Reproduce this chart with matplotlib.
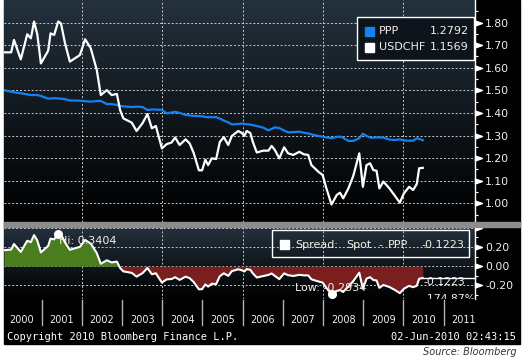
import matplotlib
matplotlib.use("Agg")
import matplotlib.pyplot as plt
import numpy as np
from matplotlib.patches import Rectangle
from matplotlib.path import Path
from matplotlib.colors import LinearSegmentedColormap
from matplotlib.transforms import blended_transform_factory

# data (decimal years)
dates = [2000.06, 2000.24, 2000.31, 2000.48, 2000.64, 2000.73, 2000.81, 2000.89, 2000.98, 2001.16,
         2001.22, 2001.31, 2001.41, 2001.48, 2001.58, 2001.70, 2001.95, 2002.08, 2002.22, 2002.37,
         2002.47, 2002.62, 2002.74, 2002.87, 2002.95, 2003.03, 2003.24, 2003.36, 2003.51, 2003.63,
         2003.74, 2003.84, 2003.99, 2004.11, 2004.23, 2004.32, 2004.43, 2004.58, 2004.68, 2004.78,
         2004.91, 2004.99, 2005.07, 2005.14, 2005.23, 2005.34, 2005.43, 2005.53, 2005.64, 2005.73,
         2005.89, 2005.98, 2006.04, 2006.10, 2006.19, 2006.25, 2006.35, 2006.51, 2006.64, 2006.72,
         2006.80, 2006.91, 2007.03, 2007.13, 2007.26, 2007.41, 2007.52, 2007.63, 2007.71, 2007.88,
         2007.99, 2008.07, 2008.21, 2008.34, 2008.42, 2008.50, 2008.63, 2008.75, 2008.90, 2008.99,
         2009.08, 2009.17, 2009.25, 2009.33, 2009.40, 2009.50, 2009.65, 2009.79, 2009.91, 2010.01,
         2010.14, 2010.24, 2010.33, 2010.39, 2010.48]
usdchf = [1.668, 1.668, 1.723, 1.637, 1.748, 1.730, 1.804, 1.748, 1.619, 1.675,
          1.752, 1.745, 1.8044, 1.796, 1.708, 1.627, 1.656, 1.726, 1.686, 1.590,
          1.479, 1.501, 1.479, 1.484, 1.413, 1.376, 1.357, 1.320, 1.355, 1.395,
          1.332, 1.342, 1.243, 1.262, 1.269, 1.291, 1.258, 1.283, 1.265, 1.223,
          1.146, 1.146, 1.193, 1.169, 1.199, 1.196, 1.271, 1.293, 1.258, 1.298,
          1.320, 1.311, 1.298, 1.320, 1.311, 1.273, 1.225, 1.233, 1.233, 1.254,
          1.236, 1.199, 1.248, 1.221, 1.214, 1.228, 1.217, 1.214, 1.169, 1.140,
          1.125, 1.073, 0.9946, 1.037, 1.047, 1.022, 1.066, 1.121, 1.221, 1.073,
          1.169, 1.177, 1.147, 1.144, 1.066, 1.096, 1.066, 1.032, 1.003, 1.044,
          1.073, 1.059, 1.085, 1.155, 1.1569]
ppp = [1.501, 1.494, 1.491, 1.487, 1.482, 1.479, 1.479, 1.479, 1.475, 1.463,
       1.464, 1.465, 1.464, 1.463, 1.461, 1.455, 1.454, 1.452, 1.450, 1.452,
       1.453, 1.439, 1.439, 1.435, 1.431, 1.429, 1.426, 1.428, 1.426, 1.413,
       1.415, 1.415, 1.413, 1.398, 1.402, 1.405, 1.400, 1.391, 1.389, 1.387,
       1.386, 1.385, 1.382, 1.381, 1.381, 1.381, 1.375, 1.366, 1.358, 1.349,
       1.351, 1.353, 1.352, 1.350, 1.348, 1.346, 1.342, 1.335, 1.323, 1.329,
       1.336, 1.333, 1.322, 1.314, 1.315, 1.317, 1.312, 1.309, 1.305, 1.298,
       1.295, 1.292, 1.288, 1.294, 1.295, 1.290, 1.276, 1.276, 1.288, 1.308,
       1.298, 1.291, 1.290, 1.292, 1.291, 1.291, 1.282, 1.280, 1.283, 1.278,
       1.277, 1.277, 1.288, 1.285, 1.2792]
years = list(range(2000, 2012))
top_ticks = [1.00, 1.10, 1.20, 1.30, 1.40, 1.50, 1.60, 1.70, 1.80]
bot_ticks = [-0.20, 0.00, 0.20, 0.40]
bot_labels = ["-0.20", "0.00", "0.20", ""]

t = np.array(dates)
spot = np.array(usdchf)
par = np.array(ppp)
spread = spot - par

W, H = 524, 359
BLUE = "#1580f0"
TXT = "#f4efe6"
GRID = "#c8c8c8"


def box(x0, y0, x1, y1):
    return [x0 / W, 1 - y1 / H, (x1 - x0) / W, (y1 - y0) / H]


def px(x, y):
    return x / W, 1 - y / H


fig = plt.figure(figsize=(W / 100, H / 100), dpi=100, facecolor="white")
fig.patches.append(Rectangle(px(4, 344), 516 / W, 344 / H, transform=fig.transFigure,
                             color="black", zorder=-5))

xlim = (2000.062, 2011.779)
ax1 = fig.add_axes(box(4, 0, 475, 222))
ax2 = fig.add_axes(box(4, 227, 475, 299))
ax3 = fig.add_axes(box(4, 299, 475, 327))

grad = LinearSegmentedColormap.from_list("bg", ["#24313d", "#11181e", "#000000"])
tri = Path([(0, -0.35), (0, 0.35), (1, 0), (0, -0.35)])

for ax, ylim, ticks, labels, minors in [
        (ax1, (0.9173, 1.8996), top_ticks, [f"{v:.2f}" for v in top_ticks],
         [0.95, 1.05, 1.15, 1.25, 1.35, 1.45, 1.55, 1.65, 1.75, 1.85]),
        (ax2, (-0.341, 0.409), bot_ticks, bot_labels, [-0.3, -0.1, 0.1, 0.3])]:
    ax.imshow(np.linspace(0, 1, 256).reshape(-1, 1), cmap=grad, aspect="auto",
              extent=[xlim[0], xlim[1], ylim[0], ylim[1]], zorder=0)
    ax.set_xlim(xlim)
    ax.set_ylim(ylim)
    for s in ["left", "top", "bottom"]:
        ax.spines[s].set_visible(False)
    ax.spines["right"].set_color("white")
    ax.spines["right"].set_linewidth(1)
    ax.set_xticks([])
    ax.yaxis.tick_right()
    ax.set_yticks(ticks)
    ax.set_yticklabels(labels)
    ax.set_yticks(minors, minor=True)
    ax.tick_params(axis="y", which="major", length=0, pad=7.2, labelsize=7.8, labelcolor=TXT)
    ax.tick_params(axis="y", which="minor", length=2.5, width=0.8, color="white")
    for v in ticks:
        ax.axhline(v, color=GRID, lw=0.7, ls=(0, (2, 2)), zorder=1)
    for yr in [2002, 2004, 2006, 2008, 2010]:
        ax.axvline(yr, color=GRID, lw=0.7, ls=(0, (2, 2)), zorder=1)
    trans = blended_transform_factory(ax.transAxes, ax.transData)
    ax.plot([1.0] * len(ticks), ticks, ls="none", marker=tri, markersize=10,
            color="white", transform=trans, clip_on=False, zorder=5)

# top panel
ax1.plot(t, par, color=BLUE, lw=1.6, zorder=3)
ax1.plot(t, spot, color="white", lw=1.6, zorder=4)

# top legend
fig.patches.append(Rectangle(px(357, 60), 117 / W, 43 / H, transform=fig.transFigure,
                             facecolor="#0d141b", edgecolor="white", lw=1, zorder=2))
fig.patches.append(Rectangle(px(365, 36), 9 / W, 9 / H, transform=fig.transFigure,
                             color=BLUE, zorder=3))
fig.patches.append(Rectangle(px(365, 52), 9 / W, 9 / H, transform=fig.transFigure,
                             color="white", zorder=3))
fig.text(*px(379, 31.5), "PPP", color=TXT, fontsize=8, va="center", zorder=4)
fig.text(*px(469, 31.5), f"{par[-1]:.4f}", color=TXT, fontsize=8, va="center", ha="right", zorder=4)
fig.text(*px(379, 47), "USDCHF", color=TXT, fontsize=8, va="center", zorder=4)
fig.text(*px(469, 47), f"{spot[-1]:.4f}", color=TXT, fontsize=8, va="center", ha="right", zorder=4)

# separator
fig.patches.append(Rectangle(px(4, 227), 516 / W, 5 / H, transform=fig.transFigure,
                             color="#8c8c8c", zorder=2))

# bottom panel
ax2.fill_between(t, spread, 0, where=spread >= 0, interpolate=True, color="#4a7d1e", lw=0, zorder=2)
ax2.fill_between(t, spread, 0, where=spread <= 0, interpolate=True, color="#7a1e1e", lw=0, zorder=2)
ax2.plot(t, spread, color="white", lw=1.5, zorder=4)
ih, il = np.argmax(spread), np.argmin(spread)
ax2.plot([t[ih], t[il]], [spread[ih], spread[il]], "o", color="white", ms=5.5, zorder=5)
ax2.annotate(f"Hi: {spread[ih]:.4f}", (t[ih], spread[ih]), xytext=(0.5, -5.5),
             textcoords="offset points", color=TXT, fontsize=8, va="center", zorder=6)
ax2.annotate(f"Low: {spread[il]:.4f}", (t[il], spread[il]), xytext=(-26.5, 4.9),
             textcoords="offset points", color=TXT, fontsize=8, va="center", zorder=6)
trans2 = blended_transform_factory(ax2.transAxes, ax2.transData)
ax2.plot([(422 - 4) / 471, 1.0], [spread[-1], spread[-1]], color="white", lw=1,
         transform=trans2, clip_on=False, zorder=5)
ax2.text(2010.5, -0.164, f"{spread[-1]:.4f}", color=TXT, fontsize=7.8, va="center", zorder=6)
ax2.text(2010.5, -0.345, "-174.87%", color=TXT, fontsize=7.8, va="center", zorder=6, clip_on=True)

# bottom legend
fig.patches.append(Rectangle(px(272, 257), 197 / W, 27 / H, transform=fig.transFigure,
                             facecolor="none", edgecolor="white", lw=1, zorder=2))
fig.patches.append(Rectangle(px(280, 249), 9 / W, 9 / H, transform=fig.transFigure,
                             color="white", zorder=3))
for word, xw in [("Spread:", 295), ("Spot", 346), ("-", 378), ("PPP", 388)]:
    fig.text(*px(xw, 245), word, color=TXT, fontsize=8, va="center", zorder=4)
fig.text(*px(464, 245), f"{spread[-1]:.4f}", color=TXT, fontsize=8, va="center", ha="right", zorder=4)

# year band
ax3.set_xlim(xlim)
ax3.set_ylim(0, 1)
ax3.axis("off")
ax3.add_patch(Rectangle((0, 0), 1, 1, transform=ax3.transAxes, color="black", zorder=0))
for yr in years[1:]:
    ax3.plot([yr, yr], [0.07, 0.95], color="#b0b0b0", lw=1)
for yr in years:
    ax3.text(yr + 0.5, 0.25, str(yr), color=TXT, fontsize=7, ha="center", va="center")

# footer
fig.text(*px(7, 337), "Copyright 2010 Bloomberg Finance L.P.", color="white",
         family="DejaVu Sans Mono", fontsize=7.5, va="center")
fig.text(*px(516, 337), "02-Jun-2010 02:43:15", color="white",
         family="DejaVu Sans Mono", fontsize=7.5, va="center", ha="right")
fig.text(*px(517, 352), "Source: Bloomberg", color="#333333", style="italic",
         fontsize=7, va="center", ha="right")

fig.savefig("out.png", dpi=100, facecolor="white")
